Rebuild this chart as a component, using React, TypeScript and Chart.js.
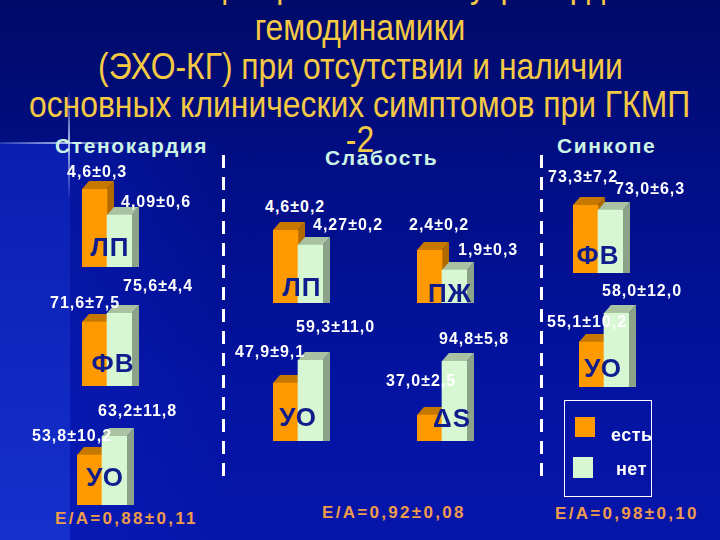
import React, { useEffect, useRef } from 'react';
import { Chart, registerables } from 'chart.js';

Chart.register(...registerables);

// ---------- data ----------
const titleLines = [
  'Показатели центральной и внутрисердечной',
  'гемодинамики',
  '(ЭХО-КГ) при отсутствии и наличии',
  'основных клинических симптомов при ГКМП',
  '-2',
];
const symptoms = ['Стенокардия', 'Слабость', 'Синкопе'];
const parameters = ['ЛП', 'ФВ', 'УО', 'ЛП', 'ПЖ', 'УО', 'ΔS', 'ФВ', 'УО'];
const presentMean = [4.6, 71.6, 53.8, 4.6, 2.4, 47.9, 37.0, 73.3, 55.1];
const presentSD = [0.3, 7.5, 10.2, 0.2, 0.2, 9.1, 2.5, 7.2, 10.2];
const absentMean = [4.09, 75.6, 63.2, 4.27, 1.9, 59.3, 94.8, 73.0, 58.0];
const absentSD = [0.6, 4.4, 11.8, 0.2, 0.3, 11.0, 5.8, 6.3, 12.0];
const eaMean = [0.88, 0.92, 0.98];
const eaSD = [0.11, 0.08, 0.1];
const legendLabels = ['есть', 'нет'];

// ---------- layout / style ----------
const BW = 25; // bar width
const DX = 7;
const DY = 8;
const FRONT = ['#FF9900', '#D6F7D2'];
const TOP = ['#C77800', '#A9C3A2'];
const SIDE = ['#B06A00', '#8CA389'];
const TITLE_COLOR = '#F6C945';
const HEAD_COLOR = '#CDF3E4';
const EA_COLOR = '#EE9C4C';
const LETTER_COLOR = '#0E1C8C';
const FONT = '"Liberation Sans", Arial, Helvetica, sans-serif';

const groupLayout = [
  { x: 82, b: 267, h: 78, min: 3.07, lx: 110, ly: 247, p: [67, 172], a: [121, 202] },
  { x: 82, b: 386, h: 73, min: 43.2, lx: 113, ly: 363, p: [50, 303], a: [123, 286] },
  { x: 77, b: 505, h: 69, min: 29.1, lx: 105, ly: 477, p: [32, 436], a: [98, 411] },
  { x: 273, b: 303, h: 73, min: 3.0, lx: 302, ly: 287, p: [265, 207], a: [313, 225] },
  { x: 417, b: 303, h: 53, min: 1.075, lx: 450, ly: 293, p: [409, 225], a: [458, 250] },
  { x: 273, b: 441, h: 81, min: 19.2, lx: 298, ly: 417, p: [235, 352], a: [296, 327] },
  { x: 417, b: 441, h: 80, min: 9.2, lx: 452, ly: 418, p: [386, 381], a: [439, 339] },
  { x: 573, b: 273, h: 68, min: 69.2, lx: 598, ly: 255, p: [548, 177], a: [615, 189] },
  { x: 579, b: 387, h: 74, min: 50.6, lx: 603, ly: 368, p: [547, 322], a: [602, 291] },
];
const titleY = [-15, 28, 67, 105, 140];
const headerLayout = [
  { x: 55, y: 145 },
  { x: 325, y: 157 },
  { x: 557, y: 145 },
];
const eaLayout = [
  { x: 55, y: 518 },
  { x: 322, y: 512 },
  { x: 555, y: 513 },
];

const fmt = (v: number) => {
  const d = Math.abs(v * 10 - Math.round(v * 10)) > 1e-6 ? 2 : 1;
  return v.toFixed(d).replace('.', ',');
};
const fmt2 = (v: number) => v.toFixed(2).replace('.', ',');

const box3d = {
  id: 'box3d',
  beforeDatasetsDraw(chart: any) {
    const ctx = chart.ctx;
    const meta = chart.getDatasetMeta(0);
    meta.data.forEach((bar: any, k: number) => {
      const { x, y, base, width } = bar.getProps(['x', 'y', 'base', 'width'], true);
      const l = x - width / 2;
      const r = x + width / 2;
      ctx.save();
      ctx.fillStyle = SIDE[k];
      ctx.beginPath();
      ctx.moveTo(r, y);
      ctx.lineTo(r + DX, y - DY);
      ctx.lineTo(r + DX, base - DY);
      ctx.lineTo(r, base);
      ctx.closePath();
      ctx.fill();
      ctx.fillStyle = TOP[k];
      ctx.beginPath();
      ctx.moveTo(l, y);
      ctx.lineTo(l + DX, y - DY);
      ctx.lineTo(r + DX, y - DY);
      ctx.lineTo(r, y);
      ctx.closePath();
      ctx.fill();
      ctx.restore();
    });
  },
};

function BarGroup({ i }: { i: number }) {
  const ref = useRef<HTMLCanvasElement>(null);
  const L = groupLayout[i];
  const w = BW * 2 + DX;
  const h = L.h + DY;
  useEffect(() => {
    const chart = new Chart(ref.current as HTMLCanvasElement, {
      type: 'bar',
      data: {
        labels: legendLabels,
        datasets: [
          {
            label: parameters[i],
            data: [presentMean[i], absentMean[i]],
            backgroundColor: FRONT,
            borderWidth: 0,
            barPercentage: 1,
            categoryPercentage: 1,
          },
        ],
      },
      options: {
        animation: false,
        responsive: false,
        maintainAspectRatio: false,
        devicePixelRatio: 1,
        events: [],
        layout: { padding: { top: DY, right: DX, left: 0, bottom: 0 } },
        plugins: { legend: { display: false }, tooltip: { enabled: false } },
        scales: {
          x: { display: false },
          y: { display: false, min: L.min, max: Math.max(presentMean[i], absentMean[i]) },
        },
      },
      plugins: [box3d],
    } as any);
    return () => chart.destroy();
  }, []);
  return (
    <canvas
      ref={ref}
      width={w}
      height={h}
      style={{ position: 'absolute', left: L.x, top: L.b - L.h - DY, width: w, height: h }}
    />
  );
}

const abs = (left: number, cy: number, extra: React.CSSProperties = {}): React.CSSProperties => ({
  position: 'absolute',
  left,
  top: cy,
  transform: 'translateY(-50%)',
  whiteSpace: 'nowrap',
  lineHeight: 1,
  fontFamily: FONT,
  ...extra,
});

const valueStyle: React.CSSProperties = {
  color: '#FFFFFF',
  fontWeight: 'bold',
  fontSize: 16,
  letterSpacing: 1,
};

export default function App() {
  return (
    <div
      style={{
        position: 'fixed',
        left: 0,
        top: 0,
        width: 720,
        height: 540,
        overflow: 'hidden',
        background: 'linear-gradient(180deg, #000a68 0%, #010e84 30%, #0413a0 70%, #0616aa 100%)',
        fontFamily: FONT,
      }}
    >
      {/* lighter left panel and flare */}
      <div
        style={{
          position: 'absolute',
          left: 0,
          top: 143,
          width: 70,
          height: 397,
          background: 'linear-gradient(180deg, #0a1eb0 0%, #1530cc 100%)',
        }}
      />
      <div
        style={{
          position: 'absolute',
          left: 70,
          top: 143,
          width: 160,
          height: 397,
          background: 'linear-gradient(90deg, rgba(10,30,190,0.45), rgba(10,30,190,0))',
        }}
      />
      <div
        style={{
          position: 'absolute',
          left: 0,
          top: 142,
          width: 130,
          height: 2,
          background: 'linear-gradient(90deg, rgba(160,190,255,0.2), rgba(200,220,255,0.8) 50%, rgba(160,190,255,0))',
        }}
      />
      <div
        style={{
          position: 'absolute',
          left: 68,
          top: 90,
          width: 2,
          height: 110,
          background: 'linear-gradient(180deg, rgba(160,190,255,0), rgba(200,220,255,0.85) 48%, rgba(160,190,255,0))',
        }}
      />

      {/* title */}
      {titleLines.map((t, k) => (
        <div
          key={'t' + k}
          style={{
            position: 'absolute',
            left: -200,
            width: 1120,
            top: titleY[k] - 18,
            height: 36,
            lineHeight: '36px',
            textAlign: 'center',
            color: TITLE_COLOR,
            fontSize: 36,
            whiteSpace: 'nowrap',
          }}
        >
          <span style={{ display: 'inline-block', transform: 'scaleX(0.885)' }}>{t}</span>
        </div>
      ))}

      {/* headers */}
      {symptoms.map((s, k) => (
        <div
          key={'h' + k}
          style={abs(headerLayout[k].x, headerLayout[k].y, {
            color: HEAD_COLOR,
            fontWeight: 'bold',
            fontSize: 21,
            letterSpacing: 1.6,
          })}
        >
          {s}
        </div>
      ))}

      {/* dashed separators */}
      {[222, 540].map((x) => (
        <div
          key={'d' + x}
          style={{
            position: 'absolute',
            left: x,
            top: 155,
            width: 3,
            height: 328,
            background: 'repeating-linear-gradient(180deg, #ffffff 0px, #ffffff 13px, rgba(0,0,0,0) 13px, rgba(0,0,0,0) 22px)',
          }}
        />
      ))}

      {/* bars */}
      {parameters.map((_, i) => (
        <BarGroup key={'g' + i} i={i} />
      ))}

      {/* parameter letters */}
      {parameters.map((p, i) => (
        <div
          key={'l' + i}
          style={{
            position: 'absolute',
            left: groupLayout[i].lx - 40,
            width: 80,
            top: groupLayout[i].ly,
            transform: 'translateY(-50%)',
            textAlign: 'center',
            lineHeight: 1,
            fontFamily: FONT,
            fontWeight: 'bold',
            fontSize: 26,
            color: LETTER_COLOR,
            letterSpacing: 1,
          }}
        >
          {p}
        </div>
      ))}

      {/* value labels */}
      {parameters.map((_, i) => (
        <React.Fragment key={'v' + i}>
          <div style={abs(groupLayout[i].p[0], groupLayout[i].p[1], valueStyle)}>
            {fmt(presentMean[i]) + '±' + fmt(presentSD[i])}
          </div>
          <div style={abs(groupLayout[i].a[0], groupLayout[i].a[1], valueStyle)}>
            {fmt(absentMean[i]) + '±' + fmt(absentSD[i])}
          </div>
        </React.Fragment>
      ))}

      {/* E/A */}
      {eaMean.map((m, k) => (
        <div
          key={'e' + k}
          style={abs(eaLayout[k].x, eaLayout[k].y, {
            color: EA_COLOR,
            fontWeight: 'bold',
            fontSize: 17,
            letterSpacing: 2.3,
          })}
        >
          {'E/A=' + fmt2(m) + '±' + fmt2(eaSD[k])}
        </div>
      ))}

      {/* legend */}
      <div
        style={{
          position: 'absolute',
          left: 564,
          top: 400,
          width: 86,
          height: 95,
          border: '1px solid #ffffff',
        }}
      />
      <div style={{ position: 'absolute', left: 575, top: 417, width: 20, height: 20, background: FRONT[0] }} />
      <div style={{ position: 'absolute', left: 573, top: 457, width: 20, height: 21, background: FRONT[1] }} />
      <div style={abs(611, 435, { color: '#fff', fontWeight: 'bold', fontSize: 18, letterSpacing: 0.5 })}>
        {legendLabels[0]}
      </div>
      <div style={abs(616, 469, { color: '#fff', fontWeight: 'bold', fontSize: 18, letterSpacing: 0.5 })}>
        {legendLabels[1]}
      </div>
    </div>
  );
}
